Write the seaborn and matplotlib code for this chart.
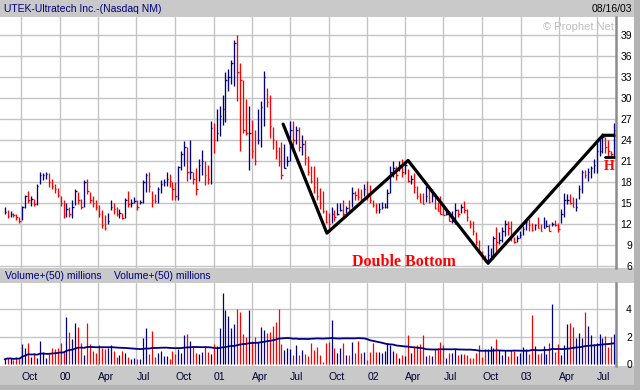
import numpy as np
import pandas as pd
import matplotlib
matplotlib.use("Agg")
import matplotlib.pyplot as plt
from matplotlib.patches import Rectangle
import seaborn as sns

# ---------------- data (weekly bars) ----------------
closes = [
    13.7,13.2,13.5,13.3,13.0,12.5,14.4,16.0,15.5,15.6,14.8,17.5,19.0,19.0,19.2,18.0,17.5,17.0,16.2,15.0,
    13.5,14.2,13.5,14.5,16.8,15.5,14.5,18.0,16.7,15.5,15.0,14.5,13.5,11.8,11.5,12.5,14.5,14.1,13.5,13.6,
    12.8,15.5,14.8,15.0,15.3,14.5,15.1,18.0,19.0,17.5,15.5,15.3,17.0,17.8,18.0,
    18.5,18.2,17.0,16.0,20.1,22.0,23.0,19.4,19.5,18.5,17.0,20.5,21.0,19.0,18.5,25.7,24.0,25.0,27.5,28.5,
    32.6,33.0,35.0,37.9,33.7,32.6,25.5,25.0,25.0,22.5,21.0,24.0,28.7,33.0,29.5,26.0,24.0,22.5,21.0,19.0,
    20.0,21.0,25.5,24.0,25.5,23.0,23.5,21.5,19.5,18.2,17.3,16.0,
    15.0,13.8,12.3,12.0,13.5,13.0,13.5,14.0,13.5,14.3,14.0,16.5,16.2,15.8,15.5,17.0,16.5,15.5,14.7,14.0,
    14.2,14.5,14.5,16.5,19.5,20.0,19.0,20.5,19.5,20.5,18.2,18.5,17.3,16.0,15.2,14.8,16.0,15.2,16.0,14.3,
    13.8,13.5,13.3,13.4,12.5,
    12.5,14.0,13.5,14.5,14.0,13.0,12.0,11.0,9.5,8.2,7.2,6.9,7.5,7.5,10.0,9.5,9.7,11.0,12.0,11.5,
    10.5,9.5,10.0,10.5,11.3,12.3,11.8,11.2,11.8,11.5,11.0,11.5,11.7,11.0,12.0,11.8,11.3,13.5,15.5,15.5,
    15.0,14.5,14.5,17.0,19.5,19.0,19.5,20.0,20.5,22.5,22.5,24.5,23.0,22.5,22.0,25.5,
]
highs = [
    14.4,14.0,13.9,13.6,13.5,13.0,14.6,16.1,16.7,16.0,15.6,17.8,19.4,19.3,19.4,19.3,18.5,17.8,17.2,16.0,
    15.4,15.0,14.5,15.4,17.0,16.6,15.6,18.3,18.5,16.6,16.0,15.5,14.7,14.0,13.3,13.6,15.4,15.0,14.5,14.2,
    13.6,15.7,16.7,15.6,15.9,15.4,15.5,18.3,19.3,19.5,16.7,16.3,17.3,18.3,18.5,
    19.5,19.2,18.0,18.0,20.3,22.5,23.9,23.0,24.0,19.4,20.0,21.3,22.6,21.0,20.4,26.8,26.4,28.4,28.9,30.5,
    33.7,34.2,35.5,38.4,39.1,35.0,32.6,29.9,28.9,26.9,25.5,28.4,29.6,33.9,31.4,30.4,25.9,24.0,23.0,23.8,
    23.4,21.7,26.8,26.8,26.1,25.9,24.8,24.0,21.7,20.3,20.3,18.8,
    17.1,16.8,14.0,13.6,14.4,14.0,15.0,15.0,15.5,14.6,15.5,17.3,16.8,17.1,17.0,17.7,18.1,17.6,15.5,15.0,
    15.0,15.2,15.0,17.0,20.3,21.0,20.3,21.0,21.3,21.0,19.9,19.0,19.3,17.5,16.5,16.5,17.5,17.1,17.0,16.0,
    15.2,16.0,14.8,14.3,13.8,
    13.8,15.0,14.1,14.8,15.3,14.1,12.6,12.4,10.8,9.7,8.2,7.5,9.0,8.6,10.3,11.6,10.8,11.6,12.6,12.4,
    12.5,10.2,10.4,11.0,11.7,12.7,12.7,12.2,12.0,13.0,12.0,13.0,12.6,12.0,12.3,12.6,12.2,14.1,16.5,16.3,
    16.3,15.9,15.7,17.6,19.8,19.8,20.0,20.3,21.3,24.0,24.5,25.0,24.4,24.0,22.5,26.5,
]
lows = [
    13.4,12.9,13.0,13.0,12.6,12.2,12.6,14.3,15.0,14.6,14.6,14.7,17.8,18.3,18.5,17.3,17.0,16.5,15.8,14.6,
    12.9,13.0,13.0,12.8,14.7,14.8,14.2,14.4,16.3,15.0,14.5,14.0,13.0,11.4,11.1,12.0,14.0,13.5,13.1,12.8,
    12.7,12.9,14.5,14.4,15.0,14.0,14.8,15.0,16.6,16.6,14.4,15.0,15.0,16.5,17.4,
    17.5,17.3,15.4,15.4,15.5,19.8,20.3,18.2,18.5,17.8,16.1,18.2,19.0,17.6,17.7,17.7,22.1,23.9,24.6,26.2,
    26.6,31.0,32.0,31.8,29.6,22.4,25.0,24.7,19.7,21.5,20.4,23.5,23.0,26.0,28.7,24.3,22.8,21.3,20.3,18.4,
    20.0,20.3,21.0,22.4,23.5,22.4,21.9,20.4,19.0,17.9,16.5,15.4,
    14.2,13.6,12.1,10.9,12.1,12.4,13.3,13.8,13.1,13.6,14.0,14.4,15.4,15.4,15.2,16.0,15.4,15.0,14.5,13.6,
    13.6,14.1,14.3,14.3,16.5,18.7,18.3,19.6,18.7,19.1,18.0,17.7,16.5,15.6,15.1,14.8,15.2,15.0,15.2,14.2,
    13.8,13.5,13.3,13.3,12.4,
    12.1,12.0,13.0,13.6,13.6,12.4,11.5,10.5,9.0,8.0,7.0,6.6,6.3,6.8,7.0,8.0,9.2,9.5,10.3,10.5,
    9.6,9.3,9.5,10.0,10.4,11.2,11.0,11.0,11.2,11.5,11.0,11.4,11.6,11.0,11.7,11.7,10.8,12.2,13.0,14.9,
    14.9,14.4,13.9,15.6,16.5,18.6,18.2,18.6,19.3,19.3,21.8,22.1,22.2,21.8,21.6,21.6,
]
volume_millions = [
    0.34,0.46,0.40,0.26,0.50,0.34,1.43,1.14,1.50,0.50,0.82,0.40,1.65,0.90,0.40,0.75,1.14,1.06,1.18,1.50,
    0.94,3.40,2.30,1.80,2.95,2.70,1.50,0.63,2.95,1.43,0.94,0.77,1.35,1.18,1.10,1.18,1.35,0.94,0.50,0.63,
    0.94,0.77,0.50,0.34,0.40,0.34,0.34,1.86,2.60,0.70,2.37,0.50,0.77,0.94,0.58,0.58,0.34,0.94,0.70,1.06,
    0.77,2.10,2.15,1.70,1.30,0.77,0.75,0.85,1.28,0.87,0.70,1.43,1.28,2.60,5.20,3.90,3.50,2.64,2.90,3.97,
    3.75,2.15,1.96,3.90,1.67,1.96,1.62,2.70,2.45,2.25,2.32,2.74,3.05,3.97,1.43,1.00,1.14,1.06,0.63,1.35,
    0.63,1.00,0.70,0.58,1.50,1.00,
    1.25,0.63,0.15,1.50,1.60,3.20,1.15,0.83,1.15,1.50,0.63,0.63,1.60,0.83,1.65,0.78,0.85,0.27,0.90,1.50,
    0.85,0.85,0.78,0.93,1.50,1.37,0.93,0.78,0.41,0.63,0.56,2.10,0.78,1.30,1.37,1.44,2.10,0.56,0.63,0.60,
    1.07,1.15,1.60,1.35,0.41,0.78,0.78,1.07,0.63,0.70,0.70,0.63,0.41,0.41,0.78,1.37,0.50,1.07,1.07,1.30,
    1.15,1.80,1.00,0.63,1.00,0.56,1.00,0.93,0.56,0.78,1.22,1.07,0.70,3.60,1.30,0.70,0.78,1.30,0.70,1.50,
    4.37,0.85,1.44,0.63,1.37,2.90,2.98,2.66,1.88,2.24,1.88,3.78,2.76,2.10,1.44,1.50,2.17,1.88,2.02,1.22,
    1.95,2.17,
]
last_week = "2003-08-11"
ma_window = 50

quarter_starts = ["1999-10-01", "2000-01-01", "2000-04-01", "2000-07-01", "2000-10-01", "2001-01-01",
                  "2001-04-01", "2001-07-01", "2001-10-01", "2002-01-01", "2002-04-01", "2002-07-01",
                  "2002-10-01", "2003-01-01", "2003-04-01", "2003-07-01"]
quarter_labels = ["Oct", "00", "Apr", "Jul", "Oct", "01", "Apr", "Jul",
                  "Oct", "02", "Apr", "Jul", "Oct", "03", "Apr", "Jul"]
price_ticks = [6, 9, 12, 15, 18, 21, 24, 27, 30, 33, 36, 39]
volume_ticks = [0, 2, 4]

# drawn double-bottom pattern
pattern_dates = ["2001-06-15", "2001-09-27", "2002-04-08", "2002-10-15", "2003-07-15", "2003-08-15"]
pattern_prices = [26.3, 10.7, 21.1, 6.4, 24.7, 24.7]
handle_dates = ["2003-07-20", "2003-08-15"]
handle_prices = [21.6, 21.6]
label_db = ("Double Bottom", "2002-03-29", 6.64)
label_h = ("H", "2003-07-30", 20.3)

title = "UTEK-Ultratech Inc.-(Nasdaq NM)"
date_text = "08/16/03"
vol_header = "Volume+(50) millions"

# ---------------- build frame ----------------
n = len(closes)
assert len(highs) == n and len(lows) == n and len(volume_millions) == n
dates = pd.date_range(end=last_week, periods=n, freq="7D")
df = pd.DataFrame({"date": dates, "high": highs, "low": lows, "close": closes,
                   "volume": volume_millions})
up = df["close"].diff().fillna(0) >= 0
NAVY, RED = "#000080", "#ff0000"
df["color"] = np.where(up, NAVY, RED)
df["ma"] = df["volume"].rolling(ma_window, min_periods=1).mean()

# ---------------- style ----------------
sns.set_theme(style="white")
plt.rcParams["font.family"] = ["Liberation Sans", "DejaVu Sans"]
GRAY = "#c9c9c9"
GRID = "#c4c4c4"
FS = 7.5

W, H = 640, 390
fig = plt.figure(figsize=(6.4, 3.9), dpi=100)
fig.patch.set_facecolor("white")

def fy(y):
    return 1 - y / H

for (x0, y0, x1, y1, c) in [(0, 0, 634, 16.5, GRAY), (0, 268, 634, 283, GRAY),
                            (0, 366, 634, 385, GRAY), (634, 0, 640, 390, "#b4b4b4"),
                            (0, 385, 640, 390, "#b4b4b4")]:
    fig.add_artist(Rectangle((x0 / W, fy(y1)), (x1 - x0) / W, (y1 - y0) / H,
                             transform=fig.transFigure, facecolor=c, edgecolor="none", zorder=0))

axp = fig.add_axes([0, fy(268), 616 / W, (268 - 16.5) / H])
axv = fig.add_axes([0, fy(366), 616 / W, (366 - 283) / H])

xmin = pd.Timestamp("1999-08-12")
xmax = pd.Timestamp("2003-08-15 05:00")
qdates = pd.to_datetime(quarter_starts)

for ax in (axp, axv):
    ax.set_facecolor("white")
    ax.set_axisbelow(True)
    ax.set_xlim(xmin, xmax)
    ax.set_xticks(qdates)
    ax.grid(True, color=GRID, lw=1.0)
    for s in ("top", "left", "bottom"):
        ax.spines[s].set_visible(False)
    ax.spines["right"].set_color("#8c8c8c")
    ax.spines["right"].set_linewidth(1.8)
    ax.yaxis.tick_right()
    ax.tick_params(axis="both", length=0)

# ---------------- price bars ----------------
tick_len = pd.Timedelta(days=3.5)
axp.vlines(df["date"], df["low"], df["high"], colors=df["color"], lw=0.95)
axp.hlines(df["close"], df["date"], df["date"] + tick_len, colors=df["color"], lw=0.95)
axp.set_ylim(5.71, 41.7)
axp.set_yticks(price_ticks)
axp.set_yticklabels([str(v) for v in price_ticks], fontsize=FS, color="black", ha="right")
axp.tick_params(axis="y", pad=11.5)
axp.tick_params(axis="x", labelbottom=False)

sns.lineplot(x=pd.to_datetime(pattern_dates), y=pattern_prices, ax=axp, color="black", lw=2.3,
             estimator=None, sort=False)
sns.lineplot(x=pd.to_datetime(handle_dates), y=handle_prices, ax=axp, color="black", lw=2.0,
             estimator=None, sort=False)
axp.text(pd.Timestamp(label_db[1]), label_db[2], label_db[0], color=RED, fontsize=11.5,
         fontweight="bold", family=["Liberation Serif", "DejaVu Serif"], ha="center", va="center")
axp.text(pd.Timestamp(label_h[1]), label_h[2], label_h[0], color=RED, fontsize=10,
         fontweight="bold", family=["Liberation Serif", "DejaVu Serif"], ha="center", va="center")
axp.text(614 / 616, (268 - 27) / (268 - 16.5), "\u00a9 Prophet.Net", transform=axp.transAxes,
         color="#bdbdbd", fontsize=8, ha="right", va="center")

# ---------------- volume ----------------
axv.vlines(df["date"], 0, df["volume"], colors=df["color"], lw=0.9)
sns.lineplot(data=df, x="date", y="ma", ax=axv, color=NAVY, lw=1.3)
axv.set_ylim(-0.15, 5.9)
axv.set_yticks(volume_ticks)
axv.set_yticklabels([str(v) for v in volume_ticks], fontsize=FS, color="black", ha="right")
axv.tick_params(axis="y", pad=11.5)
axv.yaxis.get_gridlines()[0].set_visible(False)
axv.set_xticklabels(quarter_labels, fontsize=FS, color="#000033", ha="left")
axv.tick_params(axis="x", pad=4)
axv.set_xlabel("")
axv.set_ylabel("")
axp.set_xlabel("")
axp.set_ylabel("")

# ---------------- header texts ----------------
fig.text(4 / W, fy(8.5), title, ha="left", va="center", color=NAVY, fontsize=FS)
fig.text(632 / W, fy(8.5), date_text, ha="right", va="center", color="black", fontsize=FS)
fig.text(5 / W, fy(276), vol_header, ha="left", va="center", color=NAVY, fontsize=FS)
fig.text(114 / W, fy(276), vol_header, ha="left", va="center", color=NAVY, fontsize=FS)

fig.savefig("out.png", dpi=100)
